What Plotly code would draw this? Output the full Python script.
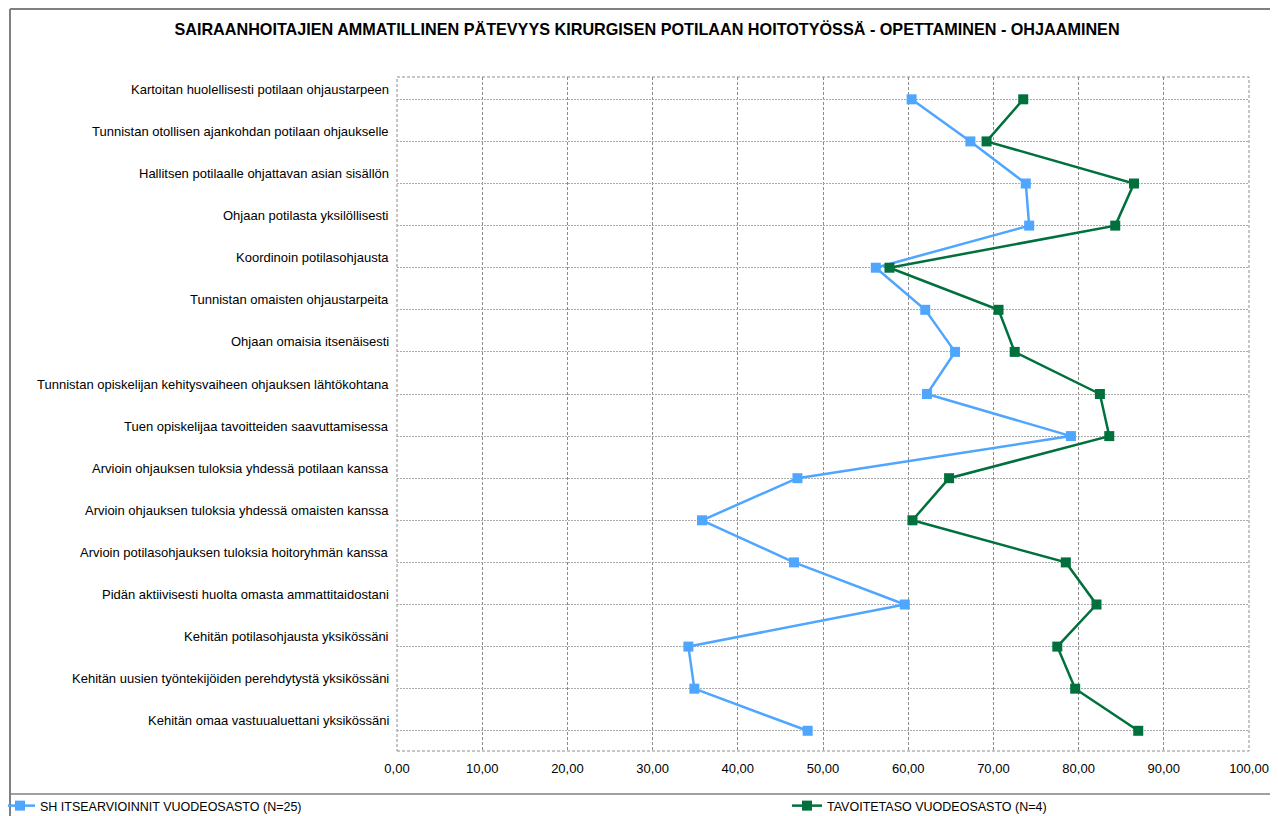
import plotly.graph_objects as go

title = "SAIRAANHOITAJIEN AMMATILLINEN PÄTEVYYS KIRURGISEN POTILAAN HOITOTYÖSSÄ - OPETTAMINEN - OHJAAMINEN"

categories = [
    "Kartoitan huolellisesti potilaan ohjaustarpeen",
    "Tunnistan otollisen ajankohdan potilaan ohjaukselle",
    "Hallitsen potilaalle ohjattavan asian sisällön",
    "Ohjaan potilasta yksilöllisesti",
    "Koordinoin potilasohjausta",
    "Tunnistan omaisten ohjaustarpeita",
    "Ohjaan omaisia itsenäisesti",
    "Tunnistan opiskelijan kehitysvaiheen ohjauksen lähtökohtana",
    "Tuen opiskelijaa tavoitteiden saavuttamisessa",
    "Arvioin ohjauksen tuloksia yhdessä potilaan kanssa",
    "Arvioin ohjauksen tuloksia yhdessä omaisten kanssa",
    "Arvioin potilasohjauksen tuloksia hoitoryhmän kanssa",
    "Pidän aktiivisesti huolta omasta ammattitaidostani",
    "Kehitän potilasohjausta yksikössäni",
    "Kehitän uusien työntekijöiden perehdytystä yksikössäni",
    "Kehitän omaa vastuualuettani yksikössäni",
]

series1_name = "SH ITSEARVIOINNIT VUODEOSASTO (N=25)"
series1 = [60.4, 67.3, 73.8, 74.2, 56.2, 62.0, 65.5, 62.2, 79.1, 47.0, 35.8, 46.6, 59.6, 34.2, 34.9, 48.2]

series2_name = "TAVOITETASO VUODEOSASTO (N=4)"
series2 = [73.5, 69.2, 86.5, 84.3, 57.8, 70.6, 72.5, 82.5, 83.6, 64.8, 60.5, 78.5, 82.1, 77.5, 79.6, 87.0]

x_ticks = [0, 10, 20, 30, 40, 50, 60, 70, 80, 90, 100]

BLUE = "#4fa6ff"
GREEN = "#00703c"
FONT = "Liberation Sans, Arial, sans-serif"

idx = list(range(len(categories)))

# page offset (browser body margin)
OFF = 8
W, H = 1278 - OFF, 816 - OFF
# plot area in screen pixels: x 397..1249, y 77..751
L = 397 - OFF
R = W - (1249 - OFF)
T = 77 - OFF
B = H - (751 - OFF)
pw, ph = W - L - R, H - T - B


def px_x(p):
    return (p - OFF - L) / pw


def px_y(p):
    return (H - B - (p - OFF)) / ph


fig = go.Figure()
fig.add_trace(go.Scatter(
    x=series1, y=idx, mode="lines+markers", name=series1_name,
    line=dict(color=BLUE, width=2.5),
    marker=dict(symbol="square", size=10, color=BLUE),
    legend="legend",
))
fig.add_trace(go.Scatter(
    x=series2, y=idx, mode="lines+markers", name=series2_name,
    line=dict(color=GREEN, width=2.5),
    marker=dict(symbol="square", size=10, color=GREEN),
    legend="legend2",
))

# category labels (slightly above their grid line, as in the reference)
for i, c in zip(idx, categories):
    fig.add_annotation(
        x=0, xref="paper", y=i, yref="y", text=c, showarrow=False,
        xanchor="right", yanchor="middle", xshift=-6, yshift=10,
        font=dict(family=FONT, size=13, color="#000000"),
    )

shapes = [
    # plot frame (dashed)
    dict(type="rect", xref="paper", yref="paper", x0=0, x1=1, y0=0, y1=1,
         line=dict(color="#8c8c8c", width=1, dash="3px,2px"), layer="below"),
    # outer chart border
    dict(type="line", xref="paper", yref="paper", x0=px_x(10), x1=px_x(10),
         y0=px_y(9), y1=px_y(830), line=dict(color="#808080", width=2)),
    dict(type="line", xref="paper", yref="paper", x0=px_x(10), x1=px_x(1300),
         y0=px_y(9), y1=px_y(9), line=dict(color="#808080", width=2)),
    dict(type="line", xref="paper", yref="paper", x0=px_x(10), x1=px_x(1300),
         y0=px_y(794), y1=px_y(794), line=dict(color="#808080", width=1.5)),
]

legend_common = dict(orientation="h", yanchor="top", xanchor="left",
                     font=dict(family=FONT, size=12.5, color="#000000"),
                     bgcolor="rgba(0,0,0,0)", itemwidth=30)

fig.update_layout(
    width=W, height=H,
    margin=dict(l=L, r=R, t=T, b=B, autoexpand=False),
    paper_bgcolor="white", plot_bgcolor="white",
    separators=",.",
    font=dict(family=FONT, size=13, color="#000000"),
    title=dict(text="<b>" + title + "</b>", x=(647 - OFF) / W, xanchor="center",
               y=1 - (29 - OFF) / H, yanchor="middle",
               font=dict(family=FONT, size=16.2, color="#000000")),
    showlegend=True,
    legend=dict(x=px_x(0), y=px_y(791), **legend_common),
    legend2=dict(x=px_x(787), y=px_y(791), **legend_common),
    shapes=shapes,
)

fig.update_xaxes(
    range=[0, 100], tickvals=x_ticks, tickformat=".2f",
    showgrid=True, gridcolor="#8c8c8c", griddash="3px,2px", gridwidth=1,
    zeroline=False, showline=False, ticks="", ticklabelstandoff=8,
    tickfont=dict(family=FONT, size=13, color="#000000"),
)
fig.update_yaxes(
    range=[15.48, -0.53], tickvals=idx, showticklabels=False,
    showgrid=True, gridcolor="#ababab", griddash="2px,1px", gridwidth=1,
    zeroline=False, showline=False, ticks="",
)

fig.write_html("out.html")
